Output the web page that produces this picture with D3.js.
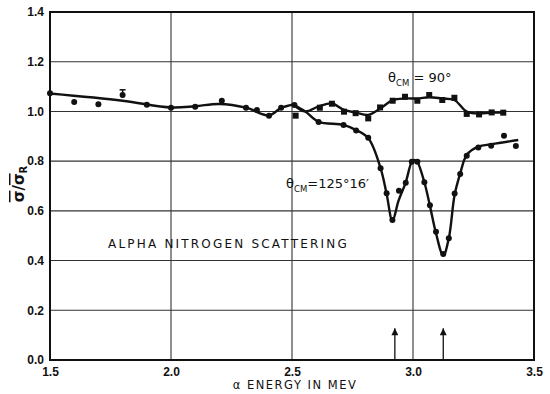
<!DOCTYPE html>
<html><head><meta charset="utf-8">
<script src="https://cdn.jsdelivr.net/npm/d3@7"></script>
<style>
body{margin:0;background:#fff;}
svg{display:block;font-family:"DejaVu Sans","Liberation Sans",sans-serif;}
</style></head>
<body><svg id="c" width="550" height="394"></svg>
<script>
// ---- data ----
const xTicks = [1.5, 2.0, 2.5, 3.0, 3.5];
const xTickLabels = ["1.5", "2.0", "2.5", "3.0", "3.5"];
const yTicks = [0.0, 0.2, 0.4, 0.6, 0.8, 1.0, 1.2, 1.4];
const yTickLabels = ["0.0", "0.2", "0.4", "0.6", "0.8", "1.0", "1.2", "1.4"];
const xGrid = [2.0, 2.5, 3.0];

// measured points below 2.5 MeV (common to both angles)
const ptsCommon = [[1.50,1.073],[1.60,1.038],[1.70,1.029],[1.80,1.066],[1.90,1.027],[2.00,1.015],[2.10,1.019],[2.21,1.043],[2.31,1.015],[2.355,1.006],[2.405,0.983],[2.455,1.015],[2.51,1.026]];
// error bar at 1.8 MeV
const errBar = [[1.80, 1.054, 1.087]];
// theta_CM = 90 deg (squares)
const pts90 = [[2.515,0.983],[2.615,1.015],[2.665,1.031],[2.715,0.999],[2.763,0.993],[2.815,0.972],[2.864,1.016],[2.916,1.043],[2.967,1.059],[3.018,1.043],[3.067,1.066],[3.121,1.046],[3.171,1.055],[3.222,0.990],[3.273,0.988],[3.325,0.996],[3.373,0.995]];
// theta_CM = 125 deg 16' (dots)
const pts125 = [[2.61,0.957],[2.713,0.945],[2.765,0.923],[2.815,0.894],[2.866,0.771],[2.891,0.671],[2.915,0.563],[2.942,0.681],[2.970,0.713],[2.995,0.798],[3.018,0.798],[3.047,0.715],[3.070,0.623],[3.095,0.516],[3.125,0.426],[3.148,0.490],[3.172,0.670],[3.195,0.748],[3.222,0.822],[3.270,0.855],[3.323,0.862],[3.376,0.902],[3.425,0.861]];

// fitted curves
const curveCommon = [[1.5,1.072],[1.8,1.043],[2.0,1.016],[2.1,1.021],[2.2,1.030],[2.31,1.015],[2.405,0.984],[2.455,1.014],[2.505,1.028]];
const curve90 = [[2.505,1.028],[2.555,1.0],[2.61,1.02],[2.665,1.032],[2.715,1.006],[2.765,0.995],[2.815,0.986],[2.865,1.012],[2.916,1.045],[2.967,1.052],[3.018,1.052],[3.067,1.057],[3.12,1.052],[3.171,1.046],[3.222,0.999],[3.273,0.992],[3.325,0.995],[3.38,0.995]];
const curve125 = [[2.505,1.028],[2.555,1.0],[2.61,0.958],[2.713,0.946],[2.765,0.925],[2.815,0.893],[2.866,0.772],[2.891,0.668],[2.915,0.56],[2.94,0.64],[2.97,0.715],[2.995,0.797],[3.007,0.805],[3.018,0.797],[3.047,0.715],[3.07,0.62],[3.095,0.51],[3.125,0.42],[3.148,0.49],[3.172,0.665],[3.195,0.75],[3.222,0.825],[3.27,0.858],[3.325,0.868],[3.435,0.885]];

// resonance arrows
const arrowsE = [2.925, 3.125];

// ---- drawing ----
const svg = d3.select("#c");
const M = {l:50, r:534, t:12, b:360};
const x = d3.scaleLinear().domain([1.5,3.5]).range([M.l, M.r]);
const y = d3.scaleLinear().domain([0,1.4]).range([M.b, M.t]);

// grid
svg.append("g").selectAll("line").data(yTicks.slice(1,-1)).join("line")
  .attr("x1",M.l).attr("x2",M.r).attr("y1",d=>y(d)).attr("y2",d=>y(d))
  .attr("stroke","#333").attr("stroke-width",1.1);
svg.append("g").selectAll("line").data(xGrid).join("line")
  .attr("y1",M.t).attr("y2",M.b).attr("x1",d=>x(d)).attr("x2",d=>x(d))
  .attr("stroke","#333").attr("stroke-width",1.1);

// frame
svg.append("rect").attr("x",M.l).attr("y",M.t).attr("width",M.r-M.l).attr("height",M.b-M.t)
  .attr("fill","none").attr("stroke","#111").attr("stroke-width",2);

// axes (labels only)
const xAxis = d3.axisBottom(x).tickValues(xTicks).tickFormat((d,i)=>xTickLabels[i]).tickSize(0).tickPadding(7);
const gx = svg.append("g").attr("transform",`translate(0,${M.b})`).call(xAxis);
gx.select(".domain").remove();
gx.selectAll("text").attr("font-size",12).attr("font-weight","bold").attr("fill","#111");

const yAxis = d3.axisLeft(y).tickValues(yTicks).tickFormat((d,i)=>yTickLabels[i]).tickSize(0).tickPadding(6);
const gy = svg.append("g").attr("transform",`translate(${M.l},0)`).call(yAxis);
gy.select(".domain").remove();
gy.selectAll("text").attr("font-size",12).attr("font-weight","bold").attr("fill","#111");

// curves
const line = d3.line().x(d=>x(d[0])).y(d=>y(d[1])).curve(d3.curveCatmullRom.alpha(0.5));
[curveCommon, curve90, curve125].forEach(c=>{
  svg.append("path").attr("d",line(c)).attr("fill","none").attr("stroke","#111").attr("stroke-width",2.4);
});

// error bar
errBar.forEach(e=>{
  svg.append("line").attr("x1",x(e[0])).attr("x2",x(e[0])).attr("y1",y(e[1])).attr("y2",y(e[2])).attr("stroke","#111").attr("stroke-width",1.5);
  svg.append("line").attr("x1",x(e[0])-3).attr("x2",x(e[0])+3).attr("y1",y(e[2])).attr("y2",y(e[2])).attr("stroke","#111").attr("stroke-width",1.5);
});

// points
svg.append("g").selectAll("circle").data(ptsCommon.concat(pts125)).join("circle")
  .attr("cx",d=>x(d[0])).attr("cy",d=>y(d[1])).attr("r",3).attr("fill","#111");
svg.append("g").selectAll("rect").data(pts90).join("rect")
  .attr("x",d=>x(d[0])-3).attr("y",d=>y(d[1])-3).attr("width",6).attr("height",6).attr("fill","#111");

// arrows
svg.append("defs").append("marker").attr("id","ah").attr("viewBox","0 0 10 10")
  .attr("refX",10).attr("refY",5).attr("markerWidth",9).attr("markerHeight",7)
  .attr("orient","auto").attr("markerUnits","userSpaceOnUse")
  .append("path").attr("d","M0,0 L10,5 L0,10 Z").attr("fill","#111");
svg.append("g").selectAll("line").data(arrowsE).join("line")
  .attr("x1",d=>x(d)).attr("x2",d=>x(d)).attr("y1",M.b).attr("y2",y(0.128))
  .attr("stroke","#111").attr("stroke-width",1.3).attr("marker-end","url(#ah)");

// axis titles
svg.append("text").attr("x",295).attr("y",389).attr("text-anchor","middle")
  .attr("font-size",11.5).attr("letter-spacing",1.5).attr("fill","#111").text("α ENERGY IN MEV");

const yl = svg.append("text").attr("transform","translate(24,184) rotate(-90)")
  .attr("text-anchor","middle").attr("font-size",15).attr("font-weight","bold").attr("fill","#111");
yl.append("tspan").style("text-decoration","overline").text("σ");
yl.append("tspan").text("/");
yl.append("tspan").style("text-decoration","overline").text("σ");
yl.append("tspan").attr("font-size",10).attr("dy",3).text("R");

// annotations
function thetaLabel(px, py, rest){
  const t = svg.append("text").attr("x",px).attr("y",py).attr("font-size",13).attr("fill","#111");
  t.append("tspan").text("θ");
  t.append("tspan").attr("font-size",8.5).attr("dy",4).text("CM");
  t.append("tspan").attr("dy",-4).text(rest);
}
thetaLabel(388, 82, " = 90°");
thetaLabel(286, 188, "=125°16′");

svg.append("text").attr("x",108).attr("y",248).attr("font-size",12).attr("letter-spacing",2.2)
  .attr("fill","#111").text("ALPHA NITROGEN SCATTERING");
</script></body></html>
